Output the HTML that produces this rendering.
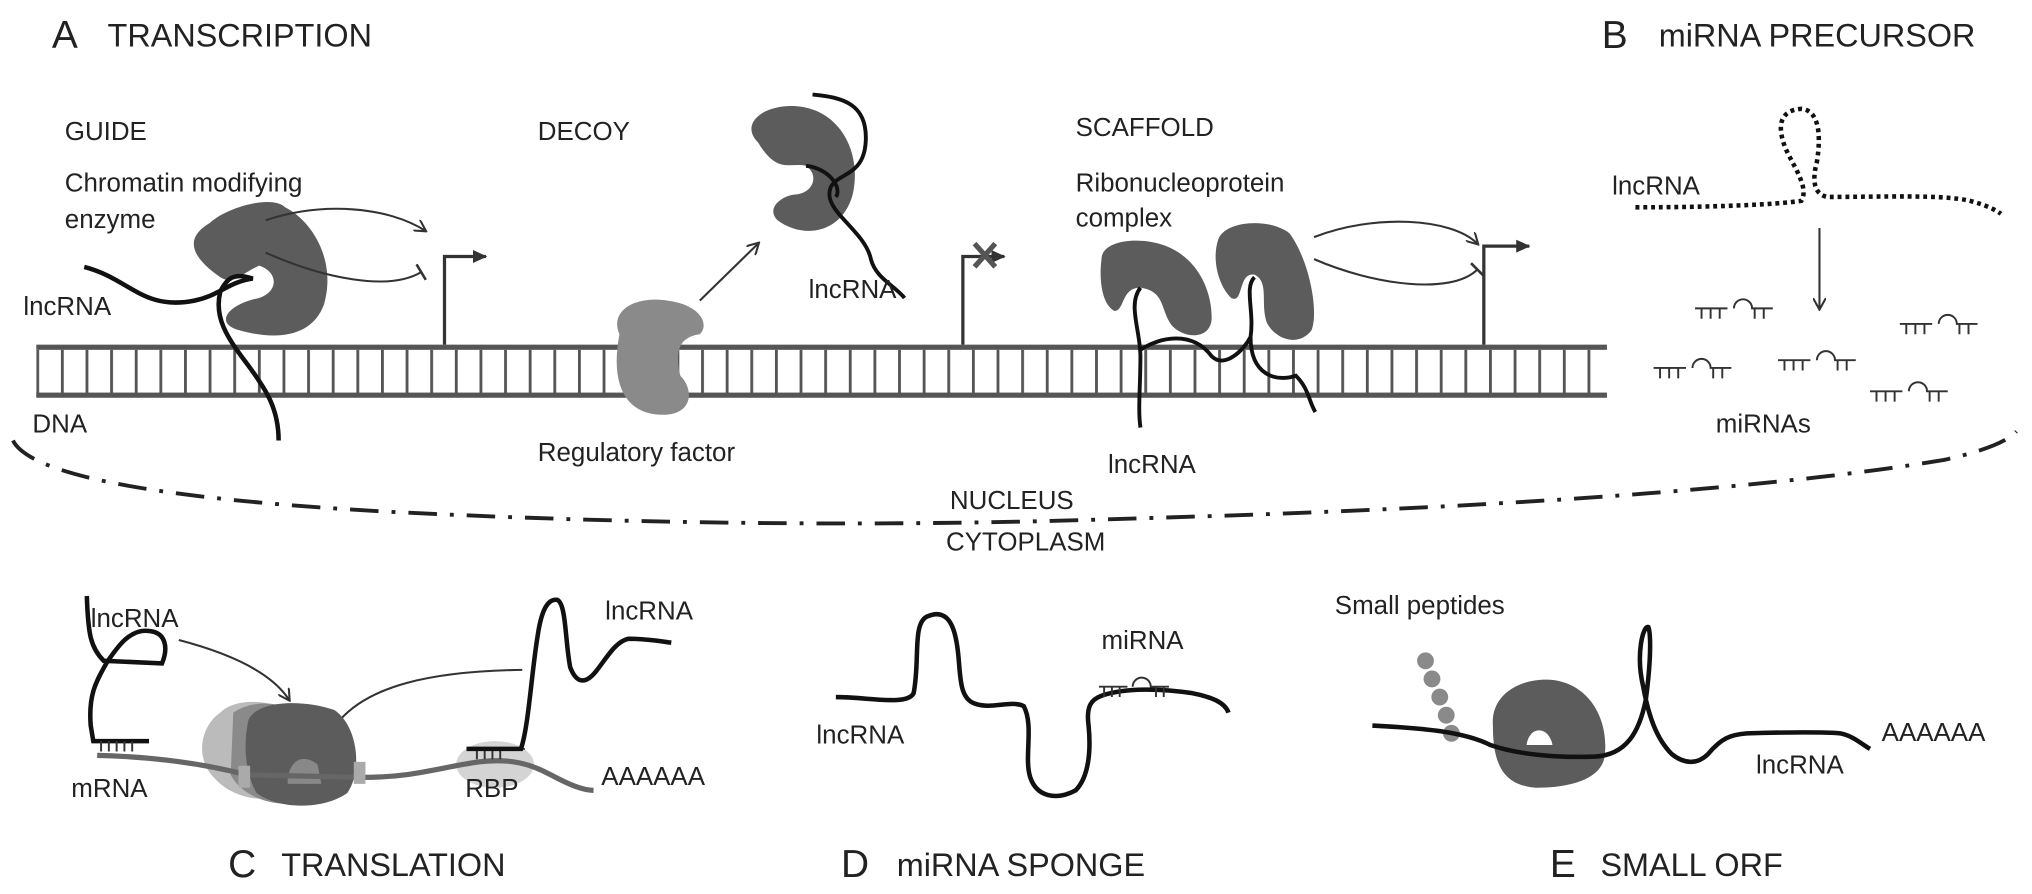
<!DOCTYPE html>
<html><head><meta charset="utf-8"><style>
html,body{margin:0;padding:0;background:#fff;}
svg{display:block;}
text{font-family:"Liberation Sans",Arial,sans-serif;fill:#222;}
</style></head><body>
<svg width="2032" height="894" viewBox="0 0 1568 690" preserveAspectRatio="none" xmlns="http://www.w3.org/2000/svg">
<defs>
<pattern id="rungs" x="28" y="0" width="19" height="690" patternUnits="userSpaceOnUse">
<rect x="0" y="270" width="2.2" height="36" fill="#555"/>
</pattern>
<marker id="ar" markerWidth="10" markerHeight="10" refX="8" refY="5" orient="auto" markerUnits="userSpaceOnUse"><path d="M0,0 L9,5 L0,10" fill="none" stroke="#333" stroke-width="1.6"/></marker>
<marker id="tb" markerWidth="4" markerHeight="14" refX="2" refY="7" orient="auto" markerUnits="userSpaceOnUse"><path d="M2,0 L2,14" stroke="#333" stroke-width="2"/></marker>
<marker id="ah" markerWidth="12" markerHeight="12" refX="10" refY="6" orient="auto" markerUnits="userSpaceOnUse"><path d="M0,1 L11,6 L0,11Z" fill="#333"/></marker>
</defs>

<!-- headers -->
<text x="40" y="37" font-size="30">A</text><text x="83" y="36" font-size="25">TRANSCRIPTION</text>
<text x="1236" y="37" font-size="30">B</text><text x="1280" y="36" font-size="25">miRNA PRECURSOR</text>
<text x="176" y="677" font-size="30">C</text><text x="217" y="676" font-size="25">TRANSLATION</text>
<text x="649" y="677" font-size="30">D</text><text x="692" y="676" font-size="25">miRNA SPONGE</text>
<text x="1196" y="677" font-size="30">E</text><text x="1235" y="676" font-size="25">SMALL ORF</text>

<!-- DNA -->
<rect x="28" y="266" width="1212" height="4" fill="#555"/>
<rect x="28" y="303" width="1212" height="4" fill="#555"/>
<rect x="28" y="268" width="1212" height="38" fill="url(#rungs)"/>

<!-- GUIDE -->
<text x="50" y="108" font-size="20">GUIDE</text>
<text x="50" y="148" font-size="20">Chromatin modifying</text>
<text x="50" y="176" font-size="20">enzyme</text>
<text x="18" y="243" font-size="20">lncRNA</text>
<text x="25" y="334" font-size="20">DNA</text>
<path d="M170,214 C150,200 140,185 162,172 C175,160 210,150 220,160 C240,170 260,200 250,235 C240,262 210,262 185,255 C165,250 175,235 200,230 C215,225 215,210 200,205 C185,212 180,220 170,214Z" fill="#5c5c5c"/>
<path d="M65,206 C100,215 110,240 150,232 C170,228 175,218 195,215 C180,210 175,215 170,225 C165,245 175,260 190,280 C205,300 215,315 215,340" fill="none" stroke="#111" stroke-width="3.5"/>
<path d="M205,170 C250,155 300,160 328,178" fill="none" stroke="#333" stroke-width="1.6" marker-end="url(#ar)"/>
<path d="M205,195 C250,215 300,225 325,210" fill="none" stroke="#333" stroke-width="1.6" marker-end="url(#tb)"/>
<path d="M343,266 L343,198 L375,198" fill="none" stroke="#333" stroke-width="2.5" marker-end="url(#ah)"/>

<!-- DECOY -->
<text x="415" y="108" font-size="20">DECOY</text>
<path d="M478,258 C470,240 490,228 515,232 C540,235 548,250 540,258 C525,260 520,270 525,290 C535,300 535,318 515,320 C485,322 470,300 478,258Z" fill="#8a8a8a"/>
<text x="415" y="356" font-size="20">Regulatory factor</text>
<path d="M540,232 L585,188" stroke="#333" stroke-width="1.6" marker-end="url(#ar)"/>
<path d="M585,110 C570,95 590,80 615,82 C650,85 665,120 658,150 C650,180 620,185 600,170 C590,160 605,150 615,150 C628,148 632,135 622,128 C610,125 600,135 585,110Z" fill="#5c5c5c"/>
<path d="M627,73 C650,75 670,80 668,110 C666,140 640,132 640,150 C640,165 668,180 672,200 C676,215 690,220 698,230" fill="none" stroke="#111" stroke-width="3"/>
<path d="M622,128 C640,130 650,145 645,152" fill="none" stroke="#111" stroke-width="3"/>
<text x="624" y="230" font-size="20">lncRNA</text>
<path d="M743,266 L743,198 L775,198" fill="none" stroke="#333" stroke-width="2.5" marker-end="url(#ah)"/>
<path d="M752,188 L768,206 M768,188 L752,206" stroke="#555" stroke-width="4"/>

<!-- SCAFFOLD -->
<text x="830" y="105" font-size="20">SCAFFOLD</text>
<text x="830" y="148" font-size="20">Ribonucleoprotein</text>
<text x="830" y="175" font-size="20">complex</text>
<path d="M850,200 C850,185 880,182 900,190 C925,200 935,225 935,245 C935,262 915,262 905,252 C895,240 900,225 880,222 C865,222 868,240 860,240 C850,235 848,215 850,200Z" fill="#5c5c5c"/>
<path d="M940,185 C945,170 980,168 995,180 C1010,200 1018,240 1012,255 C1002,268 985,262 978,250 C972,235 980,218 968,212 C955,210 960,235 950,230 C940,220 935,200 940,185Z" fill="#5c5c5c"/>
<path d="M880,222 C870,235 880,255 880,275 C880,300 878,315 880,330 M880,270 C895,260 920,255 935,275 C945,285 960,270 965,260 C968,240 960,222 968,214 M965,260 C965,290 985,295 1000,290 C1010,300 1010,310 1015,318" fill="none" stroke="#111" stroke-width="3"/>
<text x="855" y="365" font-size="20">lncRNA</text>
<path d="M1014,183 C1060,165 1120,168 1140,188" fill="none" stroke="#333" stroke-width="1.6" marker-end="url(#ar)"/>
<path d="M1014,200 C1060,220 1120,228 1140,208" fill="none" stroke="#333" stroke-width="1.6" marker-end="url(#tb)"/>
<path d="M1145,266 L1145,190 L1180,190" fill="none" stroke="#333" stroke-width="2.5" marker-end="url(#ah)"/>

<!-- B -->
<text x="1244" y="150" font-size="20">lncRNA</text>
<path d="M1262,160 C1320,160 1370,158 1390,155 C1396,145 1385,130 1378,115 C1370,95 1375,85 1390,84 C1402,85 1406,100 1402,125 C1398,140 1400,150 1410,152 C1450,152 1500,150 1520,155 C1532,158 1540,162 1544,165" fill="none" stroke="#111" stroke-width="3.5" stroke-dasharray="3,3"/>
<path d="M1404,176 L1404,238" stroke="#333" stroke-width="1.6" marker-end="url(#ar)"/>
<g fill="none" stroke="#333" stroke-width="1.5">
<path d="M1308,238 h25 M1338,238 a7,7 0 0 1 14,0 h16 M1313,238 v8 M1320,238 v8 M1327,238 v8 M1354,238 v8 M1361,238 v8"/>
<path d="M1466,250 h25 M1496,250 a7,7 0 0 1 14,0 h16 M1471,250 v8 M1478,250 v8 M1485,250 v8 M1512,250 v8 M1519,250 v8"/>
<path d="M1276,284 h25 M1306,284 a7,7 0 0 1 14,0 h16 M1281,284 v8 M1288,284 v8 M1295,284 v8 M1322,284 v8 M1329,284 v8"/>
<path d="M1372,278 h25 M1402,278 a7,7 0 0 1 14,0 h16 M1377,278 v8 M1384,278 v8 M1391,278 v8 M1418,278 v8 M1425,278 v8"/>
<path d="M1443,302 h25 M1473,302 a7,7 0 0 1 14,0 h16 M1448,302 v8 M1455,302 v8 M1462,302 v8 M1489,302 v8 M1496,302 v8"/>
</g>
<text x="1324" y="334" font-size="20">miRNAs</text>

<!-- nucleus boundary -->
<path d="M10,340 Q30,380 300,395 Q600,410 880,400 Q1300,388 1500,355 Q1545,345 1556,333" fill="none" stroke="#222" stroke-width="3" stroke-dasharray="22,10,3,10"/>
<text x="733" y="393" font-size="20">NUCLEUS</text>
<text x="730" y="425" font-size="20">CYTOPLASM</text>

<!-- C -->
<text x="70" y="484" font-size="20">lncRNA</text>
<path d="M67,460 C68,490 70,500 80,510 L125,512 C130,500 128,488 115,487 C100,485 90,500 82,512 C75,525 68,535 70,560 L72,572 L115,572" fill="none" stroke="#111" stroke-width="3.5"/>
<path d="M78,572 v8 M84,572 v8 M90,572 v8 M96,572 v8 M102,572 v8" stroke="#333" stroke-width="1.5"/>
<path d="M138,494 C180,505 210,520 223,540" fill="none" stroke="#333" stroke-width="1.6" marker-end="url(#ar)"/>
<path d="M403,517 C330,518 285,530 262,556" fill="none" stroke="#333" stroke-width="1.6" marker-end="url(#tb)"/>
<path d="M170,550 C180,540 200,540 215,545 L215,615 C195,620 175,612 165,600 C150,585 155,560 170,550Z" fill="#aaa" opacity="0.8"/>
<path d="M180,550 C195,540 215,542 225,548 L225,620 C205,622 185,612 178,598Z" fill="#8a8a8a"/>
<path d="M192,555 C200,540 235,540 258,548 C276,560 280,595 268,612 C250,625 215,625 198,612 C188,595 188,570 192,555Z" fill="#5c5c5c"/>
<path d="M222,600 C225,585 235,582 245,590 L248,605 L222,605Z" fill="#888"/>
<ellipse cx="382" cy="590" rx="30" ry="18" fill="#d4d4d4"/>
<path d="M75,583 C120,584 160,590 190,598 L280,600 C320,600 340,592 370,588 C395,585 410,590 425,598 C440,606 450,610 458,610" fill="none" stroke="#666" stroke-width="4"/>
<rect x="184" y="591" width="9" height="17" fill="#aaa"/><rect x="273" y="588" width="9" height="17" fill="#aaa"/>
<path d="M360,578 h45 M368,578 v8 M374,578 v8 M380,578 v8 M386,578 v8" stroke="#333" stroke-width="1.5"/>
<path d="M360,578 L402,578 C408,560 410,520 415,490 C418,470 423,462 430,463 C437,466 436,495 440,515 C445,528 452,528 460,518 C468,508 475,495 485,493 C500,493 510,495 518,496" fill="none" stroke="#111" stroke-width="3.5"/>
<text x="467" y="478" font-size="20">lncRNA</text>
<text x="55" y="615" font-size="20">mRNA</text>
<text x="359" y="615" font-size="20">RBP</text>
<text x="464" y="606" font-size="20">AAAAAA</text>

<!-- D -->
<path d="M645,538 C670,538 700,545 705,535 C710,510 704,482 715,476 C728,470 735,478 738,495 C742,515 738,538 752,543 C765,548 780,540 790,545 C798,560 790,585 795,600 C800,615 815,618 830,610 C840,600 842,580 840,560 C838,545 842,540 850,537 C870,530 900,532 920,535 C935,538 945,542 948,550" fill="none" stroke="#111" stroke-width="3.5"/>
<path d="M848,530 h22 M874,530 a7,7 0 0 1 14,0 h14 M852,530 v8 M858,530 v8 M864,530 v8 M892,530 v8 M898,530 v8" fill="none" stroke="#333" stroke-width="1.5"/>
<text x="850" y="501" font-size="20">miRNA</text>
<text x="630" y="574" font-size="20">lncRNA</text>

<!-- E -->
<text x="1030" y="474" font-size="20">Small peptides</text>
<g fill="#8a8a8a"><circle cx="1100" cy="510" r="6.5"/><circle cx="1105" cy="524" r="6.5"/><circle cx="1111" cy="538" r="6.5"/><circle cx="1116" cy="552" r="6.5"/><circle cx="1120" cy="566" r="6.5"/></g>
<path d="M1152,560 C1150,535 1175,522 1200,525 C1230,530 1242,560 1238,585 C1235,600 1215,608 1185,608 C1160,606 1152,590 1152,560Z" fill="#5c5c5c"/>
<path d="M1059,560 C1100,562 1130,565 1150,575 C1170,582 1200,585 1230,584 C1255,583 1265,565 1270,540 C1274,510 1274,490 1272,484 C1268,482 1262,505 1268,530 C1272,552 1278,570 1290,582 C1300,590 1310,590 1318,582 C1328,570 1335,567 1348,566 C1380,565 1410,565 1420,566 C1430,568 1436,574 1443,578" fill="none" stroke="#111" stroke-width="3.5"/>
<path d="M1178,575 C1180,560 1195,560 1198,575Z" fill="#fff"/>
<text x="1355" y="597" font-size="20">lncRNA</text>
<text x="1452" y="572" font-size="20">AAAAAA</text>
</svg>
</body></html>
